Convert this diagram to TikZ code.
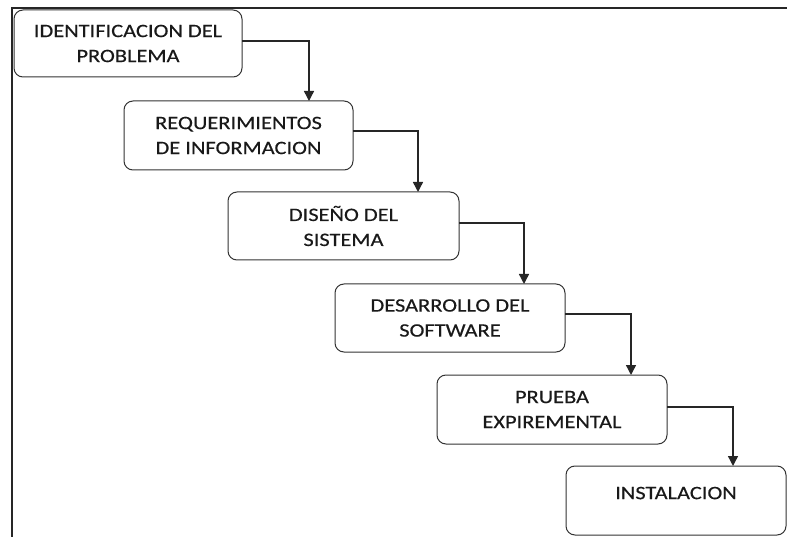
\documentclass[tikz,border=0pt]{standalone}
\usepackage{fontspec}
\setmainfont{Carlito}[FakeStretch=1.18,FakeBold=0.4]
\usepackage{tikz}
\usetikzlibrary{arrows.meta}

\begin{document}
\begin{tikzpicture}[x=1pt,y=-1pt,
	etapa/.style={shape=rectangle,draw=black!80,line width=1pt,rounded corners=9pt,
		minimum width=230pt,minimum height=68pt,inner sep=0pt,outer sep=0pt,
		align=center,text=black!90,font=\fontsize{19}{25}\selectfont},
	flecha/.style={draw=black!85,line width=1.4pt,-{Triangle[width=10pt,length=10pt]}}]
	\useasboundingbox (0, 0) rectangle (787, 537);

	\draw[line width=2.2pt,black!85] (12, 537) -- (12, 8) -- (787, 8);

	\node[etapa,minimum width=228pt,minimum height=67pt] (ip) at (128, 43.5)     {IDENTIFICACION DEL\\PROBLEMA};
	\node[etapa,minimum width=229pt,minimum height=69pt] (ri) at (238.5, 135.5)     {REQUERIMIENTOS\\DE INFORMACION};
	\node[etapa,minimum width=231pt] (ds) at (343.5, 226)     {DISEÑO DEL\\SISTEMA};
	\node[etapa] (dsw) at (450, 318)     {DESARROLLO DEL\\SOFTWARE};
	\node[etapa,minimum height=69pt] (pe) at (552, 409.5)     {PRUEBA\\EXPIREMENTAL};
	\node[etapa,minimum width=220pt,minimum height=69pt,text depth=15pt] (in) at (676, 500.5)     {INSTALACION};

	\draw[flecha] ([yshift=2.5pt]ip.east) -| ([xshift=185pt]ri.north west);
	\draw[flecha] ([yshift=4.5pt]ri.east) -| ([xshift=190pt]ds.north west);
	\draw[flecha] ([yshift=3pt]ds.east) -| ([xshift=189pt]dsw.north west);
	\draw[flecha] ([yshift=4pt]dsw.east) -| ([xshift=194pt]pe.north west);
	\draw[flecha] ([yshift=2.5pt]pe.east) -| ([xshift=167pt]in.north west);

\end{tikzpicture}
\end{document}
